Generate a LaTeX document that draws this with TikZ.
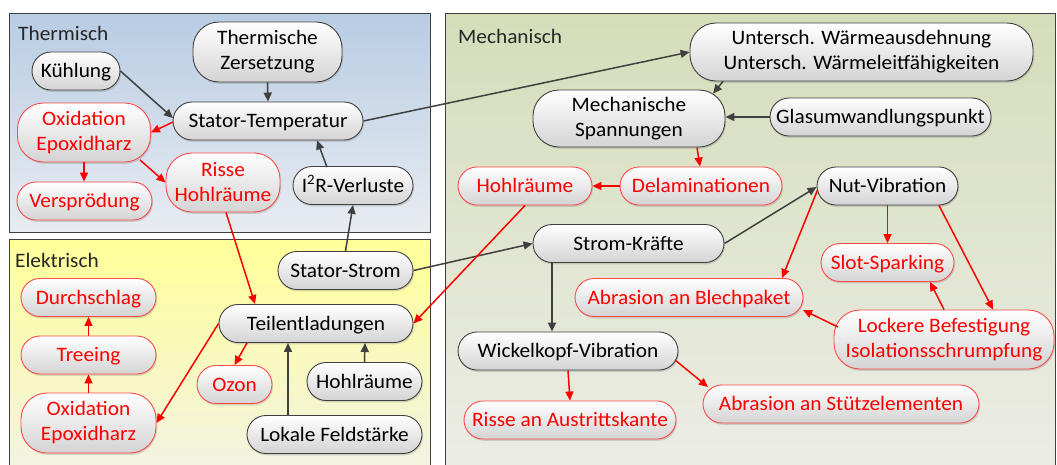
\documentclass[tikz,border=0pt]{standalone}
\usepackage{fontspec}
\setmainfont{Carlito}[FakeStretch=1.04]
\usetikzlibrary{arrows.meta,calc,shadows,shapes.misc}
\definecolor{lg}{HTML}{404040}
\definecolor{rd}{HTML}{FF0000}
\definecolor{rdb}{HTML}{FF4A4A}
\definecolor{thtop}{HTML}{B8CCE4}
\definecolor{thbot}{HTML}{E8ECF1}
\definecolor{eltop}{HTML}{FFFF99}
\definecolor{elbot}{HTML}{F2F2E4}
\definecolor{metop}{HTML}{D5DDBA}
\definecolor{mebot}{HTML}{ECEDE6}
\begin{document}
\begin{tikzpicture}[x=1pt,y=-1pt,
  box/.style={draw=lg, line width=0.9pt, rounded rectangle, rounded rectangle arc length=180,
    top color=white, bottom color=black!17,
    inner xsep=0pt, inner ysep=9.5pt, text height=16pt, text depth=3pt,
    align=center, font=\fontsize{20.5}{25}\selectfont, text=black,
    drop shadow={shadow xshift=1pt,shadow yshift=-1.8pt,opacity=0.3}},
  rbox/.style={box, draw=rdb, text=rd},
  tall/.style={rectangle, rounded corners=26pt, inner ysep=0pt, text height=, text depth=},
  ga/.style={draw=lg, line width=1.5pt, -{Triangle[length=9pt,width=8pt]}},
  ra/.style={ga, draw=rd},
  panel/.style={draw=lg, line width=0.9pt},
  lab/.style={anchor=base west, inner sep=0pt, font=\fontsize{20.5}{25}\selectfont, text=black!85}]
\clip (0,0) rectangle (1057,464);
\fill[white] (0,0) rectangle (1057,464);
% panels
\path[panel, top color=thtop, bottom color=thbot] (9,13) rectangle (430,232);
\path[panel, top color=eltop, bottom color=elbot] (9,239) rectangle (430,475);
\path[panel, top color=metop, bottom color=mebot] (445,13) rectangle (1055,475);
\node[lab] (lth) at (18,40) {Thermisch};
\node[lab] (lel) at (15,267) {Elektrisch};
\node[lab] (lme) at (458,43) {Mechanisch};
% Thermisch
\node[box, tall, minimum width=149pt, minimum height=60pt] (tz) at (267.5,52) {Thermische\\Zersetzung};
\node[box, minimum width=88pt] (kuehl) at (76,71) {Kühlung};
\node[box, minimum width=190pt] (stemp) at (268,121) {Stator-Temperatur};
\node[rbox, tall, minimum width=133pt, minimum height=59pt] (oxt) at (84,132.5) {Oxidation\\Epoxidharz};
\node[rbox, minimum width=135pt] (vers) at (84.5,201) {Versprödung};
\node[rbox, tall, minimum width=114pt, minimum height=59pt] (risse) at (223,182.5) {Risse\\Hohlräume};
\node[box, minimum width=120pt] (i2r) at (353,185.5) {I\textsuperscript{2}R-Verluste};
% Elektrisch
\node[box, minimum width=135pt] (sstrom) at (345.5,270.5) {Stator-Strom};
\node[rbox, minimum width=135pt] (durch) at (88.5,297.5) {Durchschlag};
\node[rbox, minimum width=135pt] (tree) at (88.5,355) {Treeing};
\node[rbox, tall, minimum width=135pt, minimum height=60pt] (oxe) at (88.5,423) {Oxidation\\Epoxidharz};
\node[box, minimum width=194pt] (teil) at (316,323.5) {Teilentladungen};
\node[rbox, minimum width=75pt] (ozon) at (234.5,384.5) {Ozon};
\node[box, minimum width=115pt] (hohle) at (364.5,381.5) {Hohlräume};
\node[box, minimum width=175pt] (lokal) at (334.5,434.5) {Lokale Feldstärke};
% Mechanisch
\node[box, tall, minimum width=343pt, minimum height=58pt] (unt) at (861.5,52) {Untersch. Wärmeausdehnung\\Untersch. Wärmeleitfähigkeiten};
\node[box, tall, minimum width=192pt, minimum height=57pt] (mspan) at (629,118.5) {Mechanische\\Spannungen};
\node[box, minimum width=221pt] (glas) at (880.5,117) {Glasumwandlungspunkt};
\node[rbox, minimum width=134pt] (hohlm) at (525,186) {Hohlräume};
\node[rbox, minimum width=162pt] (delam) at (701,186) {Delaminationen};
\node[box, minimum width=141pt] (nut) at (887.5,186) {Nut-Vibration};
\node[box, minimum width=191pt] (skraft) at (628.5,243.5) {Strom-Kräfte};
\node[rbox, minimum width=133pt] (slot) at (887.5,262.5) {Slot-Sparking};
\node[rbox, minimum width=228pt] (blech) at (689,297.5) {Abrasion an Blechpaket};
\node[rbox, tall, minimum width=220pt, minimum height=59pt] (lock) at (944,339.5) {Lockere Befestigung\\Isolationsschrumpfung};
\node[box, minimum width=220pt] (wick) at (568,351) {Wickelkopf-Vibration};
\node[rbox, minimum width=212pt] (risa) at (570,420) {Risse an Austrittskante};
\node[rbox, minimum width=276pt] (stuetz) at (841,404) {Abrasion an Stützelementen};
% connectors: Thermisch
\draw[ga] (kuehl.east) -- ($(stemp)+(-95,-3)$);
\draw[ga] (tz.south) -- (stemp.north);
\draw[ra] ($(stemp)+(-95,1)$) -- (oxt.east);
\draw[ra] (oxt.south) -- (oxt.south |- vers.north);
\draw[ra] ($(oxt)+(56,27.5)$) -- (risse.west);
\draw[ga] ($(i2r.north)+(-26,1)$) -- ($(stemp.south)+(49,0)$);
\draw[ga] (sstrom.north) -- (i2r.south);
\draw[ra] ($(risse.south)+(3,0)$) -- ($(teil.north)+(-61,0)$);
\draw[ga] (stemp.east) -- (unt.west);
% Elektrisch
\draw[ra] (tree.north) -- (durch.south);
\draw[ra] (oxe.north) -- (tree.south);
\draw[ra] (teil.west) -- (oxe.east);
\draw[ra] ($(teil.south)+(-69,0)$) -- (ozon.north);
\draw[ga] ($(lokal.north)+(-46.5,0)$) -- ($(teil.south)+(-28,0)$);
\draw[ga] (hohle.north) -- ($(teil.south)+(49,0)$);
\draw[ga] (sstrom.east) -- (skraft.west);
\draw[ra] (hohlm.south) -- (teil.east);
% Mechanisch
\draw[ga] ($(unt.south)+(-138.5,0)$) -- ($(mspan)+(84,-25)$);
\draw[ga] (glas.west) -- (mspan.east |- glas.west);
\draw[ra] ($(mspan.south)+(68,0)$) -- ($(delam.north)+(-1,0)$);
\draw[ra] (delam.west) -- (hohlm.east);
\draw[ga] (skraft.east) -- ($(nut.west)+(0,1)$);
\draw[ga] ($(skraft.south)+(-76.5,0)$) -- ($(wick.north)+(-16,0)$);
\draw[ra] ($(nut.west)+(1,4)$) -- ($(blech.north)+(93,0)$);
\draw[ra] (nut.south) -- (slot.north);
\draw[ra] ($(nut.south)+(51.5,0)$) -- ($(lock.north)+(49,0)$);
\draw[ra] (lock.north) -- ($(slot.south)+(42.5,0)$);
\draw[ra] ($(lock)+(-106,-12.5)$) -- ($(blech)+(114,12.5)$);
\draw[ra] (wick.south) -- (risa.north);
\draw[ra] ($(wick)+(107,9)$) -- ($(stuetz)+(-133,-17)$);
\end{tikzpicture}
\end{document}
